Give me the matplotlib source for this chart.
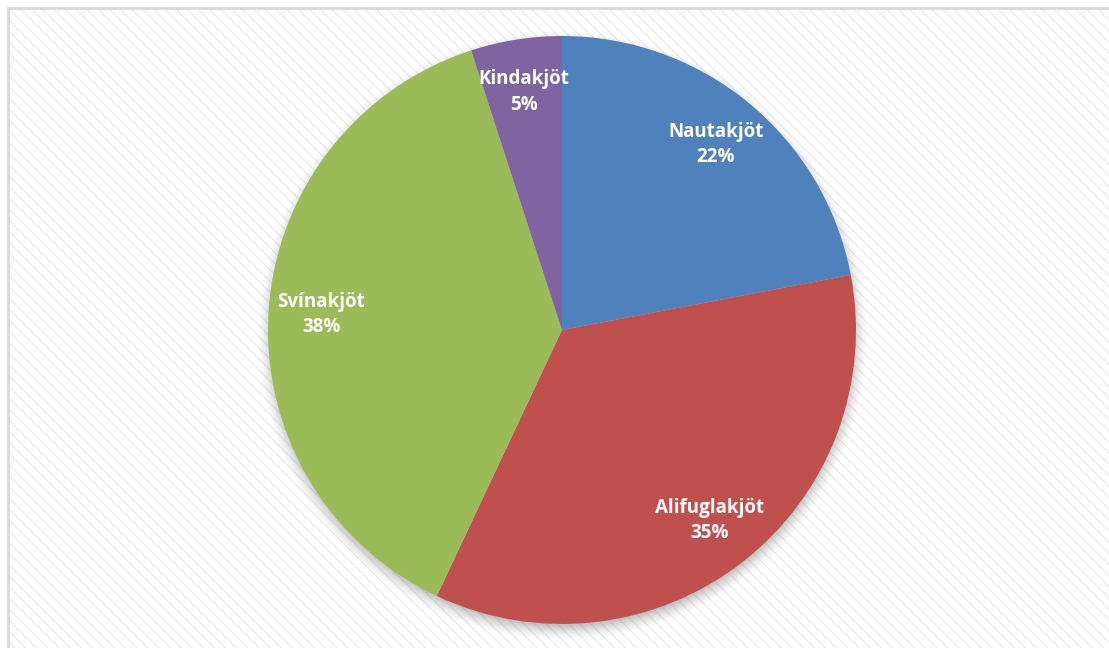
import numpy as np
import matplotlib.pyplot as plt
from matplotlib.patches import Rectangle

# share of meat types
labels = ['Nautakjöt', 'Alifuglakjöt', 'Svínakjöt', 'Kindakjöt']
shares = [22, 35, 38, 5]
colors = ['#4F81BD', '#C0504D', '#9BBB59', '#8064A2']

W, H = 1109, 648
fig = plt.figure(figsize=(W / 100, H / 100), dpi=100)
ax = fig.add_axes([0, 0, 1, 1])
ax.set_xlim(0, W)
ax.set_ylim(0, H)
ax.set_aspect('equal')
ax.axis('off')

# chart area: light diagonal stripes with a grey border
bg = Rectangle((7.5, -20), W + 20, H - 7.5 + 20, facecolor='white',
               edgecolor='#ebebeb', hatch='\\\\\\', linewidth=0, zorder=0)
ax.add_patch(bg)
ax.add_patch(Rectangle((7.5, -20), W + 20, H - 7.5 + 20, facecolor='none',
                       edgecolor='#d9d9d9', linewidth=2, zorder=1))

cx, cy, r = 562, 318, 294

# soft drop shadow under the pie
yy, xx = np.mgrid[0:H, 0:W]
dist = np.hypot(xx - cx, (H - yy) - (cy - 5))
fade = np.clip(1 - (dist - r + 4) / 16, 0, 1) ** 1.6
shadow = np.zeros((H, W, 4))
shadow[..., :3] = 0.35
shadow[..., 3] = fade * 0.35
ax.imshow(shadow, extent=(0, W, 0, H), origin='upper', zorder=2,
          interpolation='bilinear')

wedges, texts = ax.pie(shares, colors=colors, startangle=90, counterclock=False,
                       center=(cx, cy), radius=r, frame=True,
                       wedgeprops=dict(linewidth=0, zorder=3))
ax.set_xlim(0, W)
ax.set_ylim(0, H)
ax.axis('off')

for w, name, val in zip(wedges, labels, shares):
    ang = np.deg2rad((w.theta1 + w.theta2) / 2)
    x = cx + 0.82 * r * np.cos(ang)
    y = cy + 0.82 * r * np.sin(ang)
    ax.text(x, y, f'{name}\n{val}%', ha='center', va='center', color='white',
            fontsize=13.5, fontweight='bold', family='Open Sans',
            linespacing=1.35, zorder=5)

fig.savefig('out.png', dpi=100)
